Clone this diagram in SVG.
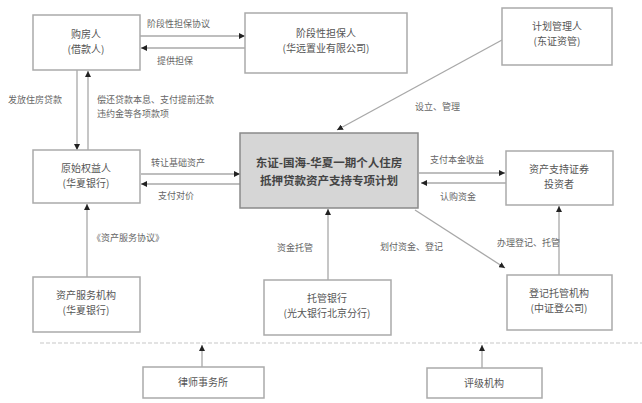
<svg xmlns="http://www.w3.org/2000/svg" width="642" height="403" viewBox="0 0 642 403">
<style>
.box{fill:#fff;stroke:#aaa;stroke-width:1.5}
.main{fill:#d6d6d6;stroke:#8a8a8a;stroke-width:1.5}
.t{font-family:"Noto Sans CJK SC","Liberation Sans",sans-serif;font-size:10px;fill:#555;text-anchor:middle}
.tm{font-family:"Noto Sans CJK SC","Liberation Sans",sans-serif;font-size:11.5px;font-weight:bold;fill:#444;text-anchor:middle}
.lb{font-family:"Noto Sans CJK SC","Liberation Sans",sans-serif;font-size:9px;fill:#666}
.ln{stroke:#a8a8a8;stroke-width:1.3;fill:none;marker-end:url(#ah)}
</style>
<defs>
<marker id="ah" viewBox="0 0 8 8" refX="8" refY="4" markerWidth="6" markerHeight="6" markerUnits="userSpaceOnUse" orient="auto">
<path d="M0,0 L8,4 L0,8 z" fill="#222"/>
</marker>
</defs>
<rect width="642" height="403" fill="#fff"/>

<g id="connectors">
<line class="ln" x1="140" y1="36" x2="245" y2="36"/>
<line class="ln" x1="245" y1="48" x2="141" y2="48"/>
<line class="ln" x1="77" y1="70" x2="77" y2="150"/>
<line class="ln" x1="88" y1="150" x2="88" y2="71"/>
<line class="ln" x1="141" y1="174" x2="240" y2="174"/>
<line class="ln" x1="240" y1="184" x2="141" y2="184"/>
<line class="ln" x1="419" y1="173" x2="505" y2="173"/>
<line class="ln" x1="506" y1="183" x2="421" y2="183"/>
<line class="ln" x1="502" y1="40" x2="337" y2="130"/>
<line class="ln" x1="328" y1="280" x2="328" y2="209"/>
<line class="ln" x1="87" y1="277" x2="87" y2="204"/>
<line class="ln" x1="415" y1="210" x2="505" y2="268"/>
<line class="ln" x1="559" y1="275" x2="559" y2="206"/>
<line x1="40" y1="343" x2="642" y2="343" stroke="#c8c8c8" stroke-width="1.2" stroke-dasharray="4 2"/>
<line class="ln" x1="202" y1="367" x2="202" y2="345"/>
<line class="ln" x1="482" y1="368" x2="482" y2="345"/>
<text class="lb" x="147" y="27">阶段性担保协议</text>
<text class="lb" x="157" y="64">提供担保</text>
<text class="lb" x="8" y="103">发放住房贷款</text>
<text class="lb" x="97" y="103">偿还贷款本息、支付提前还款</text>
<text class="lb" x="97" y="117">违约金等各项款项</text>
<text class="lb" x="151" y="166">转让基础资产</text>
<text class="lb" x="158" y="199">支付对价</text>
<text class="lb" x="430" y="163">支付本金收益</text>
<text class="lb" x="440" y="200">认购资金</text>
<text class="lb" x="415" y="110">设立、管理</text>
<text class="lb" x="92" y="241">《资产服务协议》</text>
<text class="lb" x="277" y="251">资金托管</text>
<text class="lb" x="380" y="250">划付资金、登记</text>
<text class="lb" x="497" y="246">办理登记、托管</text>
</g>

<g id="n-tl"><rect class="box" x="33" y="15" width="107" height="55"/>
<text class="t" x="86" y="38">购房人</text><text class="t" x="86" y="53">(借款人)</text></g>
<g id="n-tm"><rect class="box" x="245" y="13" width="162" height="60"/>
<text class="t" x="326" y="37">阶段性担保人</text><text class="t" x="326" y="52">(华远置业有限公司)</text></g>
<g id="n-tr"><rect class="box" x="502" y="8" width="110" height="57"/>
<text class="t" x="557" y="30">计划管理人</text><text class="t" x="557" y="45">(东证资管)</text></g>
<g id="n-lm"><rect class="box" x="33" y="150" width="107" height="53"/>
<text class="t" x="86" y="172">原始权益人</text><text class="t" x="86" y="187">(华夏银行)</text></g>
<g id="n-c"><rect class="main" x="240" y="133" width="178" height="75"/>
<text class="tm" x="329" y="167">东证-国海-华夏一期个人住房</text><text class="tm" x="329" y="185">抵押贷款资产支持专项计划</text></g>
<g id="n-rm"><rect class="box" x="506" y="151" width="107" height="54"/>
<text class="t" x="559" y="173">资产支持证券</text><text class="t" x="559" y="188">投资者</text></g>
<g id="n-lb"><rect class="box" x="33" y="277" width="107" height="55"/>
<text class="t" x="86" y="299">资产服务机构</text><text class="t" x="86" y="314">(华夏银行)</text></g>
<g id="n-bm"><rect class="box" x="264" y="280" width="127" height="55"/>
<text class="t" x="327" y="302">托管银行</text><text class="t" x="327" y="317">(光大银行北京分行)</text></g>
<g id="n-br"><rect class="box" x="507" y="275" width="105" height="55"/>
<text class="t" x="559" y="297">登记托管机构</text><text class="t" x="559" y="312">(中证登公司)</text></g>
<g id="n-b1"><rect class="box" x="143" y="367" width="121" height="31"/>
<text class="t" x="203" y="386">律师事务所</text></g>
<g id="n-b2"><rect class="box" x="427" y="368" width="115" height="30"/>
<text class="t" x="484" y="387">评级机构</text></g>
</svg>
